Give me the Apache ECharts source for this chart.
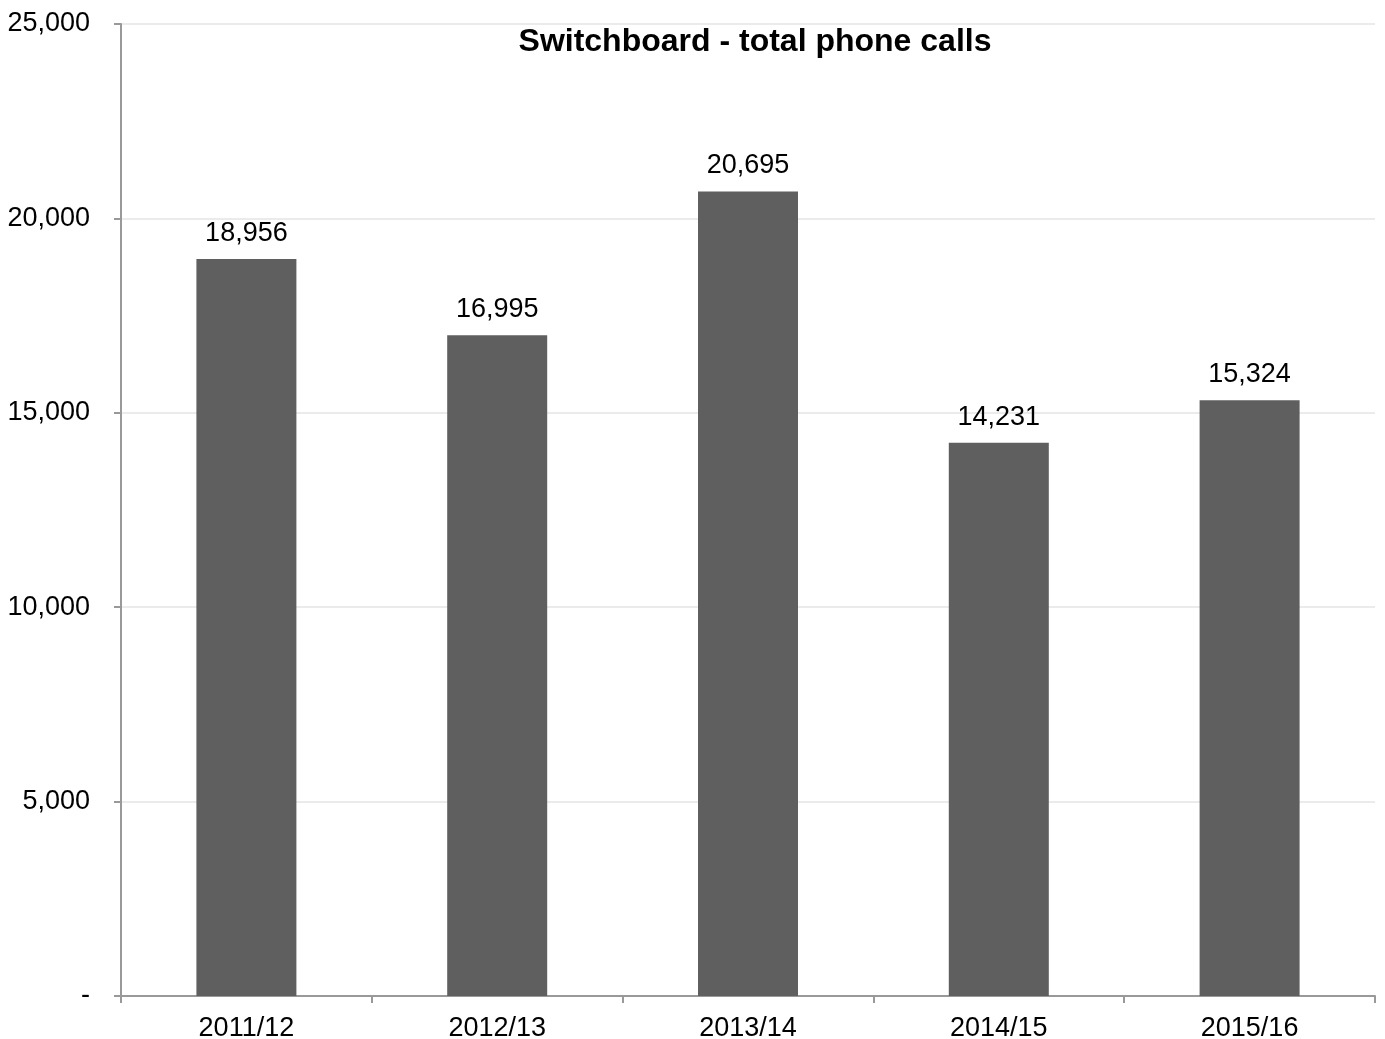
<!DOCTYPE html>
<html>
<head>
<meta charset="utf-8">
<script src="https://cdn.jsdelivr.net/npm/echarts@6/dist/echarts.min.js"></script>
<style>
  html, body { margin: 0; padding: 0; background: #fff; }
  #chart { width: 1385px; height: 1039px; }
</style>
</head>
<body>
<div id="chart"></div>
<script>
// Financial years and total switchboard calls per year
const years = ['2011/12', '2012/13', '2013/14', '2014/15', '2015/16'];
const totalCalls = [18956, 16995, 20695, 14231, 15324];

const fmt = v => v === 0 ? '-' : v.toLocaleString('en-GB');

const chart = echarts.init(document.getElementById('chart'));
chart.setOption({
  animation: false,
  backgroundColor: '#ffffff',
  title: {
    text: 'Switchboard - total phone calls',
    left: 750,
    textAlign: 'center',
    top: 21,
    textStyle: {
      fontFamily: 'Liberation Sans, Arial, sans-serif',
      fontWeight: 'bold',
      fontSize: 32,
      color: '#000'
    }
  },
  grid: {
    left: 121, right: 10, top: 24, bottom: 43,
    containLabel: false,
    outerBoundsMode: 'none'
  },
  xAxis: {
    type: 'category',
    data: years,
    axisLine: { lineStyle: { color: '#999999', width: 2 } },
    axisTick: { show: true, length: 7, lineStyle: { color: '#999999', width: 2 } },
    axisLabel: {
      margin: 19,
      color: '#000',
      fontSize: 27,
      fontFamily: 'Liberation Sans, Arial, sans-serif'
    }
  },
  yAxis: {
    type: 'value',
    min: 0,
    max: 25000,
    interval: 5000,
    axisLine: { show: true, lineStyle: { color: '#999999', width: 2 } },
    axisTick: { show: true, length: 7, lineStyle: { color: '#999999', width: 2 } },
    splitLine: { lineStyle: { color: '#ebebeb', width: 2 } },
    axisLabel: {
      margin: 31,
      color: '#000',
      fontSize: 27,
      fontFamily: 'Liberation Sans, Arial, sans-serif',
      formatter: fmt
    }
  },
  series: [{
    type: 'bar',
    data: totalCalls,
    barWidth: 100,
    itemStyle: { color: '#5f5f5f' },
    label: {
      show: true,
      position: 'top',
      distance: 12,
      color: '#000',
      fontSize: 27,
      fontFamily: 'Liberation Sans, Arial, sans-serif',
      formatter: p => fmt(p.value)
    }
  }]
});
</script>
</body>
</html>
